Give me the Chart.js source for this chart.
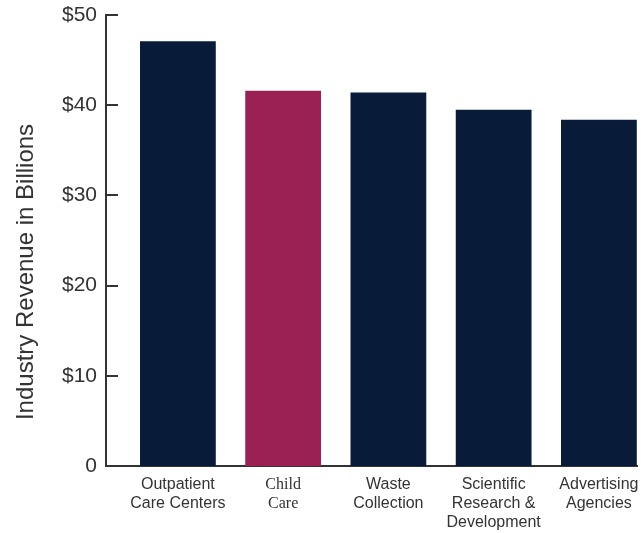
<!DOCTYPE html>
<html>
<head>
<meta charset="utf-8">
<script src="https://cdn.jsdelivr.net/npm/chart.js@4/dist/chart.umd.min.js"></script>
<style>
  html, body { margin: 0; padding: 0; background: #fff; }
  #wrap { width: 644px; height: 533px; }
</style>
</head>
<body>
<div id="wrap"><canvas id="barChart"></canvas></div>
<script>
var categories = [
  ['Outpatient', 'Care Centers'],
  ['Child', 'Care'],
  ['Waste', 'Collection'],
  ['Scientific', 'Research &', 'Development'],
  ['Advertising', 'Agencies']
];
var revenue = [47.1, 41.6, 41.4, 39.5, 38.4];
var highlight = 1;
var yTicks = [0, 10, 20, 30, 40, 50];

var navy = '#081c3a';
var plum = '#9b2154';
var ink = '#333333';

// inward tick marks on the y axis + rotated title
var axisExtras = {
  id: 'axisExtras',
  afterDraw: function(chart) {
    var ctx = chart.ctx;
    var y = chart.scales.y;
    var left = chart.chartArea.left;
    ctx.save();
    ctx.strokeStyle = ink;
    ctx.lineWidth = 2;
    yTicks.forEach(function(v) {
      if (v === 0) return;
      var py = Math.round(y.getPixelForValue(v));
      ctx.beginPath();
      ctx.moveTo(left, py);
      ctx.lineTo(left + 12, py);
      ctx.stroke();
    });
    ctx.translate(26, 272);
    ctx.rotate(-Math.PI / 2);
    ctx.fillStyle = ink;
    ctx.font = '24px "Liberation Sans", Arial, sans-serif';
    ctx.textAlign = 'center';
    ctx.textBaseline = 'middle';
    ctx.fillText('Industry Revenue in Billions', 0, 0);
    ctx.restore();
  }
};

(function() {
  var points = revenue.map(function(v, i) { return { x: i, y: v }; });
  var colors = revenue.map(function(v, i) { return i === highlight ? plum : navy; });

  var ctx = document.getElementById('barChart').getContext('2d');
  new Chart(ctx, {
    type: 'bar',
    data: {
      datasets: [{
        data: points,
        backgroundColor: colors,
        borderWidth: 0
      }]
    },
    options: {
      responsive: true,
      maintainAspectRatio: false,
      animation: false,
      layout: { padding: { top: 15, right: 7, left: 0, bottom: 0 } },
      plugins: { legend: { display: false }, tooltip: { enabled: false } },
      scales: {
        x: {
          type: 'linear',
          offset: false,
          min: -0.683,
          max: 4.362,
          afterFit: function(s) { s.height = 67; s.paddingLeft = 0; s.paddingRight = 0; },
          grid: { display: false, drawTicks: false },
          border: { display: true, color: ink, width: 2 },
          ticks: {
            stepSize: 1,
            includeBounds: false,
            autoSkip: false,
            maxRotation: 0,
            padding: 9,
            color: ink,
            font: function(c) {
              if (c.tick && c.tick.value === highlight) {
                return { family: '"Liberation Serif", "Times New Roman", serif', size: 16 };
              }
              return { family: '"Liberation Sans", Arial, sans-serif', size: 16 };
            },
            callback: function(v) {
              return Number.isInteger(v) && categories[v] ? categories[v] : '';
            }
          }
        },
        y: {
          min: 0,
          max: 50,
          afterFit: function(s) { s.width = 106; s.paddingTop = 0; s.paddingBottom = 0; },
          grid: { display: false, drawTicks: false },
          border: { display: true, color: ink, width: 2 },
          ticks: {
            stepSize: 10,
            padding: 9,
            color: ink,
            font: { family: '"Liberation Sans", Arial, sans-serif', size: 21 },
            callback: function(v) { return v === 0 ? '0' : '$' + v; }
          }
        }
      }
    },
    plugins: [axisExtras]
  });
})();
</script>
</body>
</html>
